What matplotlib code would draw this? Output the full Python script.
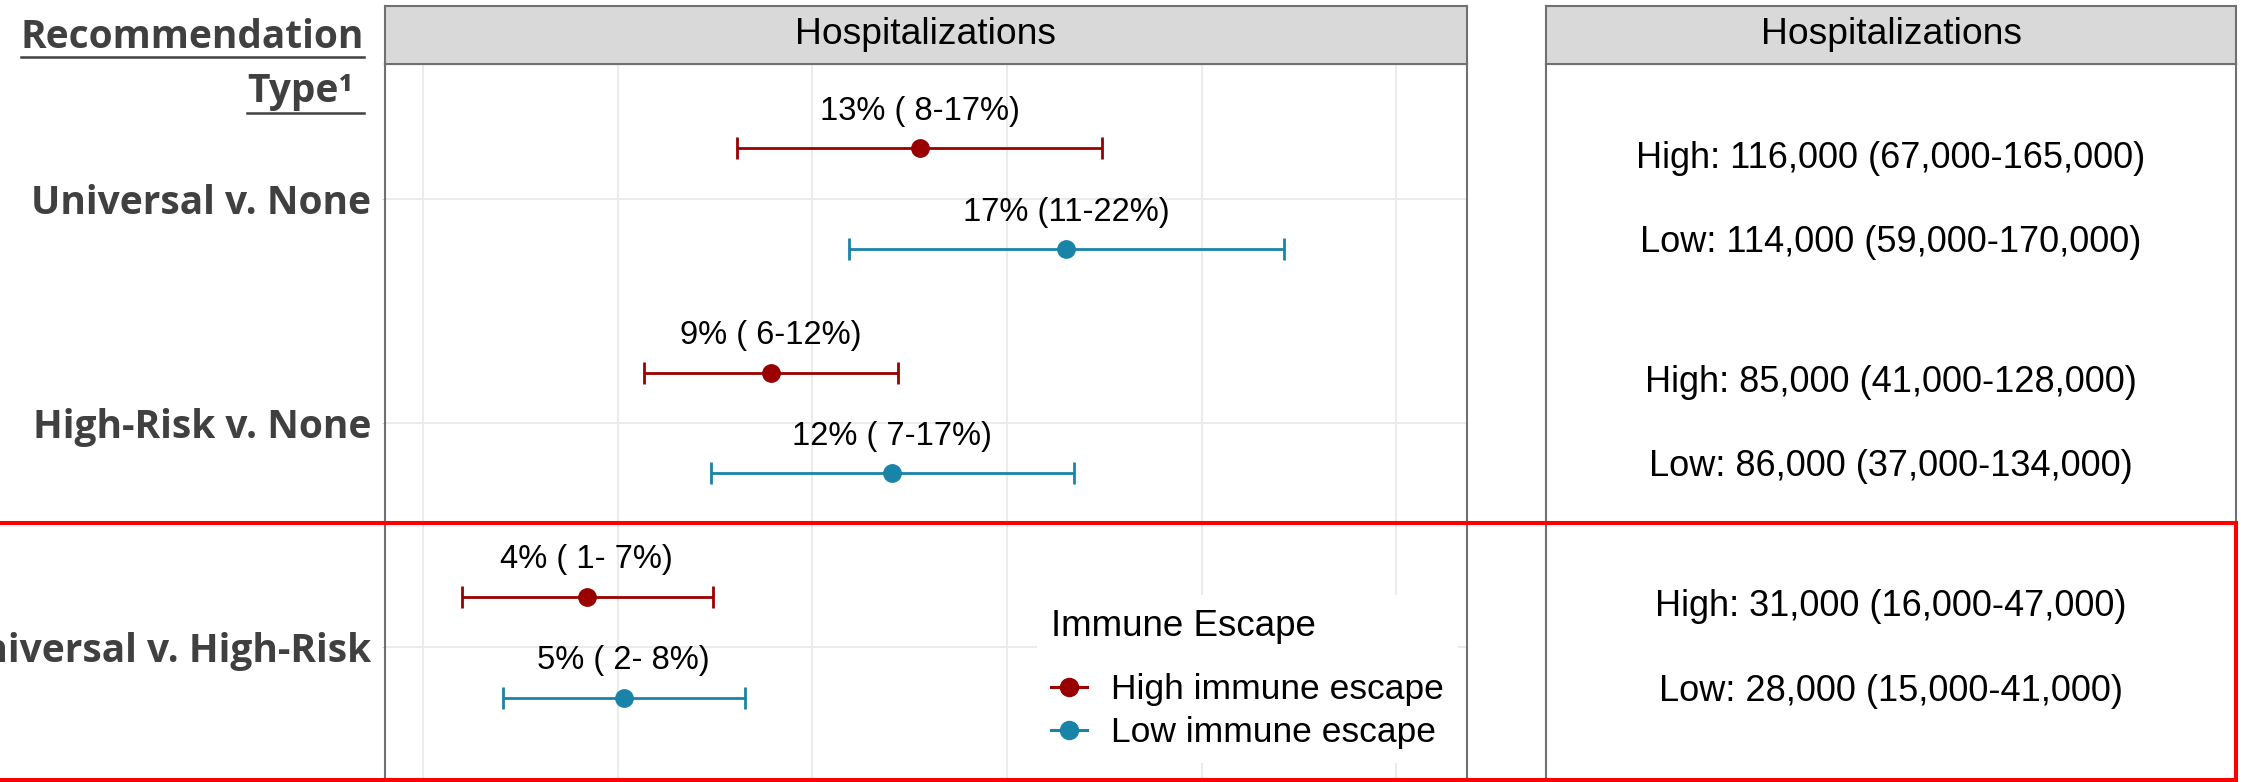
import matplotlib
matplotlib.use('Agg')
import matplotlib.pyplot as plt
from matplotlib.lines import Line2D
from matplotlib.patches import Rectangle

plt.rcParams['font.family'] = ['Liberation Sans', 'DejaVu Sans']

# данные (проценты)
categories = ['Universal v. None', 'High-Risk v. None', 'Universal v. High-Risk']
high_est = [12.76, 8.93, 4.20]
high_lo = [8.07, 5.67, 1.00]
high_hi = [17.44, 12.20, 7.45]
low_est = [16.52, 12.05, 5.15]
low_lo = [10.95, 7.39, 2.04]
low_hi = [22.12, 16.73, 8.27]
high_labels = ['13% ( 8-17%)', '9% ( 6-12%)', '4% ( 1- 7%)']
low_labels = ['17% (11-22%)', '12% ( 7-17%)', '5% ( 2- 8%)']
hosp_high = ['High: 116,000 (67,000-165,000)', 'High: 85,000 (41,000-128,000)',
             'High: 31,000 (16,000-47,000)']
hosp_low = ['Low: 114,000 (59,000-170,000)', 'Low: 86,000 (37,000-134,000)',
            'Low: 28,000 (15,000-41,000)']

red = '#990000'
blue = '#1984A7'
grey_border = '#707070'
label_col = '#404040'
label_font = ['Open Sans', 'DejaVu Sans']

W, H = 2241, 782
fig = plt.figure(figsize=(W / 100, H / 100), dpi=100)


def fx(px):
    return px / W


def fy(py):
    return 1 - py / H


# левая панель
ax = fig.add_axes([fx(385), 0, fx(1467) - fx(385), fy(64)])
ax_strip = fig.add_axes([fx(385), fy(64), fx(1467) - fx(385), 58 / H])
# правая панель
ax2 = fig.add_axes([fx(1546), 0, fx(2236) - fx(1546), fy(64)])
ax2_strip = fig.add_axes([fx(1546), fy(64), fx(2236) - fx(1546), 58 / H])

ypos = list(range(len(categories)))
dodge = 0.225
y_high = [y - dodge for y in ypos]
y_low = [y + dodge for y in ypos]

for est, lo, hi, yy, col, labs in [(high_est, high_lo, high_hi, y_high, red, high_labels),
                                   (low_est, low_lo, low_hi, y_low, blue, low_labels)]:
    xerr = [[e - l for e, l in zip(est, lo)], [h - e for e, h in zip(est, hi)]]
    ax.errorbar(est, yy, xerr=xerr, fmt='o', color=col, ms=12.5, elinewidth=2.0,
                capsize=8.2, capthick=2.0, zorder=3)
    for e, y, t in zip(est, yy, labs):
        ax.text(e, y - 0.165, t, ha='center', va='center', fontsize=23.5, color='black')

ax.set_xlim(-0.98, 26.82)
ax.set_ylim(2.6, -0.6)
ax.set_xticks([0, 5, 10, 15, 20, 25])
ax.set_yticks(ypos)
ax.set_yticklabels(categories, fontfamily=label_font, fontweight='bold',
                   fontsize=28, color=label_col)
ax.tick_params(axis='x', length=0, labelbottom=False)
ax.tick_params(axis='y', length=2.2, pad=7.8, color='#D0D0D0')
ax.grid(True, color='#EBEBEB', lw=1.4)
ax.set_axisbelow(True)

handles = [Line2D([0], [0], color=red, marker='o', ms=13, lw=2.2),
           Line2D([0], [0], color=blue, marker='o', ms=13, lw=2.2)]
leg = ax.legend(handles, ['High immune escape', 'Low immune escape'], title='Immune Escape',
                loc='upper left', bbox_to_anchor=(fx(1037), fy(595)),
                bbox_transform=fig.transFigure, frameon=True, fancybox=False,
                facecolor='white', edgecolor='none', framealpha=1, fontsize=25.5,
                title_fontsize=26.5, handlelength=1.0, handletextpad=0.7,
                labelspacing=0.27, borderpad=0.4, borderaxespad=0, alignment='left')
leg._legend_box.sep = 21  # отступ между заголовком легенды и пунктами

# правая панель с числами
for y, t in zip(y_high, hosp_high):
    ax2.text(0.5, y + 0.045, t, ha='center', va='center', fontsize=26)
for y, t in zip(y_low, hosp_low):
    ax2.text(0.5, y - 0.03, t, ha='center', va='center', fontsize=26)
ax2.set_xlim(0, 1)
ax2.set_ylim(2.6, -0.6)
ax2.set_xticks([])
ax2.set_yticks([])

for a in [ax, ax2, ax_strip, ax2_strip]:
    for s in a.spines.values():
        s.set_color(grey_border)
        s.set_linewidth(1.5)
for a in [ax_strip, ax2_strip]:
    a.set_facecolor('#D9D9D9')
    a.set_xticks([])
    a.set_yticks([])
    a.text(0.5, 0.5, 'Hospitalizations', ha='center', va='center', fontsize=26.8,
           transform=a.transAxes)

# заголовок слева с подчёркиванием
t1 = fig.text(fx(364), fy(48), 'Recommendation', ha='right', va='baseline',
              fontfamily=label_font, fontweight='bold', fontsize=28, color=label_col)
t2 = fig.text(fx(353), fy(102), 'Type¹', ha='right', va='baseline',
              fontfamily=label_font, fontweight='bold', fontsize=28, color=label_col)
fig.canvas.draw()
r = fig.canvas.get_renderer()
inv = fig.transFigure.inverted()
for t, ypx in [(t1, 56.7), (t2, 113)]:
    bb = t.get_window_extent(r).transformed(inv)
    fig.add_artist(Line2D([bb.x0, fx(364)], [fy(ypx), fy(ypx)], color=label_col, lw=1.8,
                          transform=fig.transFigure))

# красная рамка
fig.add_artist(Rectangle((fx(-20), fy(780)), fx(2236) - fx(-20), fy(522.7) - fy(780),
                         fill=False, edgecolor='#FF0000', lw=2.9, transform=fig.transFigure,
                         clip_on=False, zorder=10))

fig.savefig('out.png', dpi=100)
